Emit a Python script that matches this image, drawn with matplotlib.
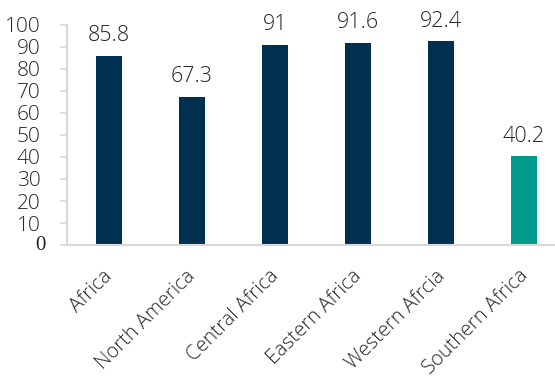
import matplotlib.pyplot as plt
from matplotlib.transforms import blended_transform_factory, ScaledTranslation

# data
regions = ["Africa", "North America", "Central Africa", "Eastern Africa",
           "Western Afrcia", "Southern Africa"]
values = [85.8, 67.3, 91, 91.6, 92.4, 40.2]
value_labels = ["85.8", "67.3", "91", "91.6", "92.4", "40.2"]
bar_colors = ["#00304f", "#00304f", "#00304f", "#00304f", "#00304f", "#009b8a"]
y_ticks = [0, 10, 20, 30, 40, 50, 60, 70, 80, 90, 100]

plt.rcParams['font.family'] = ['Open Sans', 'DejaVu Sans']
plt.rcParams['font.weight'] = 'light'
grey = "#d9d9d9"
txt = "#262626"

fig = plt.figure(figsize=(5.55, 3.8), dpi=100)
ax = fig.add_axes([0.121, 0.355, 0.898, 0.58])

x = range(len(regions))
ax.bar(x, values, width=0.31, color=bar_colors)
for i, v in enumerate(values):
    ax.annotate(value_labels[i], (i, v), xytext=(0, 7), textcoords="offset points",
                ha="center", va="bottom", fontsize=15.5, color=txt)

ax.set_xlim(-0.5, len(regions) - 0.5)
ax.set_ylim(0, 100)
ax.set_yticks(y_ticks)
# the zero label is drawn separately in a serif face, as in the original
ax.set_yticklabels([""] + [str(t) for t in y_ticks[1:]], fontsize=15, color=txt)
trans = blended_transform_factory(fig.transFigure, ax.transData)
ax.text(46 / 555, 0, "0", transform=trans, ha="right", va="center",
        fontsize=15, family="Liberation Serif", weight="normal", color=txt)

# category labels, rotated and ending just left of the bar centre
ax.set_xticks(list(x))
ax.set_xticklabels([])
lab_trans = blended_transform_factory(ax.transData, ax.transAxes) + \
    ScaledTranslation(-0.06, -0.21, fig.dpi_scale_trans)
for i, name in enumerate(regions):
    ax.text(i, 0, name, transform=lab_trans, rotation=45, ha="right", va="top",
            rotation_mode="anchor", fontsize=14.5, color=txt)

for s in ["top", "right"]:
    ax.spines[s].set_visible(False)
ax.spines["left"].set_color(grey)
ax.spines["bottom"].set_color(grey)
ax.spines["left"].set_linewidth(1.5)
ax.spines["bottom"].set_linewidth(1.5)
ax.tick_params(axis="y", color=grey, length=5, width=1.2, pad=14)
ax.tick_params(axis="x", length=0)

fig.savefig("out.png", dpi=100)
